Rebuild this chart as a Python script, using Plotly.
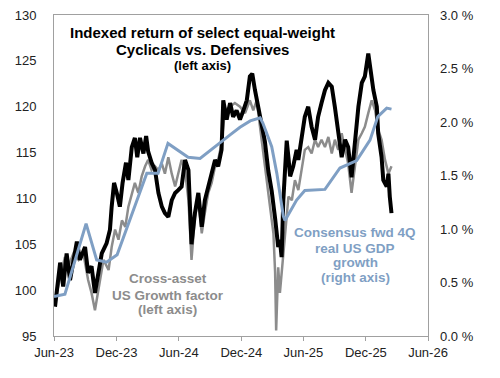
import plotly.graph_objects as go

# ---- Data ----
cyc_dates = ["2023-06-04","2023-06-09","2023-06-19","2023-06-28","2023-07-08","2023-07-18","2023-07-28","2023-08-07",
             "2023-08-16","2023-08-31","2023-09-09","2023-09-19","2023-09-29","2023-10-09","2023-10-19","2023-11-02",
             "2023-11-12","2023-11-17","2023-11-24","2023-12-02","2023-12-11","2023-12-19","2023-12-29","2024-01-05",
             "2024-01-15","2024-01-24","2024-01-31","2024-02-08","2024-02-18","2024-02-26","2024-03-03","2024-03-13",
             "2024-03-23","2024-04-02","2024-04-12","2024-04-21","2024-05-01","2024-05-11","2024-05-21","2024-05-30",
             "2024-06-09","2024-06-19","2024-06-29","2024-07-08","2024-07-18","2024-07-28","2024-08-07","2024-08-16",
             "2024-08-26","2024-09-05","2024-09-15","2024-09-24","2024-10-04","2024-10-09","2024-10-19","2024-10-29",
             "2024-11-07","2024-11-17","2024-11-27","2024-12-07","2024-12-17","2024-12-26","2025-01-02","2025-01-10",
             "2025-01-20","2025-01-30","2025-02-08","2025-02-18","2025-02-28","2025-03-10","2025-03-15","2025-03-19",
             "2025-03-24","2025-03-29","2025-04-03","2025-04-13","2025-04-18","2025-04-23","2025-05-02","2025-05-12",
             "2025-05-17","2025-05-27","2025-06-05","2025-06-15","2025-06-25","2025-07-05","2025-07-14","2025-07-24",
             "2025-08-03","2025-08-13","2025-08-23","2025-09-01","2025-09-11","2025-09-21","2025-10-01","2025-10-10",
             "2025-10-20","2025-10-30","2025-11-09","2025-11-19","2025-11-28","2025-12-08","2025-12-13","2025-12-23",
             "2026-01-02","2026-01-06","2026-01-16","2026-01-21","2026-01-31","2026-02-05","2026-02-09","2026-02-14"]
cyc_values = [98.2,100.0,103.0,100.4,104.0,101.1,103.0,105.3,
              103.3,104.7,101.9,102.6,99.7,101.9,104.0,105.1,
              106.6,109.1,111.7,110.6,109.1,111.7,113.9,112.0,
              115.6,116.6,114.5,116.6,114.9,116.8,115.1,113.9,
              113.1,110.6,109.1,108.4,108.0,109.8,110.6,110.9,
              111.3,114.2,113.1,105.0,108.4,110.6,106.9,109.8,
              111.3,112.4,114.2,113.5,115.3,120.7,118.6,120.4,
              118.9,119.6,118.6,119.6,120.7,123.3,123.6,121.8,
              120.0,117.8,116.2,113.0,110.8,107.8,106.5,104.7,
              105.5,103.6,109.8,116.3,114.5,112.4,113.5,115.3,
              114.2,117.1,118.9,120.0,117.8,116.4,118.9,120.4,
              121.8,122.6,122.2,120.0,117.1,114.5,116.4,115.6,
              112.3,116.4,120.0,122.6,123.3,125.8,124.4,121.8,
              120.0,117.1,114.5,112.0,111.3,112.7,110.2,108.4]

growth_dates = ["2023-06-04","2023-06-19","2023-07-03","2023-07-13","2023-07-28","2023-08-12","2023-08-26","2023-09-09",
                "2023-09-19","2023-09-29","2023-10-09","2023-10-24","2023-11-08","2023-11-17","2023-11-27","2023-12-07",
                "2023-12-17","2023-12-27","2024-01-05","2024-01-15","2024-01-24","2024-02-03","2024-02-13","2024-02-23",
                "2024-03-03","2024-03-13","2024-03-23","2024-04-02","2024-04-12","2024-04-21","2024-05-01","2024-05-11",
                "2024-05-21","2024-05-30","2024-06-09","2024-06-19","2024-06-29","2024-07-08","2024-07-18","2024-07-28",
                "2024-08-07","2024-08-16","2024-08-26","2024-09-05","2024-09-15","2024-09-24","2024-10-04","2024-10-14",
                "2024-10-29","2024-11-12","2024-11-27","2024-12-12","2024-12-26","2025-01-05","2025-01-15","2025-01-30",
                "2025-02-04","2025-02-13","2025-02-23","2025-03-05","2025-03-10","2025-03-13","2025-03-19","2025-03-24",
                "2025-03-29","2025-04-08","2025-04-18","2025-04-28","2025-05-07","2025-05-17","2025-05-27","2025-06-05",
                "2025-06-15","2025-06-25","2025-07-05","2025-07-14","2025-07-24","2025-08-03","2025-08-13","2025-08-23",
                "2025-09-01","2025-09-11","2025-09-21","2025-10-01","2025-10-10","2025-10-20","2025-10-30","2025-11-09",
                "2025-11-19","2025-11-28","2025-12-08","2025-12-18","2025-12-28","2026-01-06","2026-01-16","2026-01-26",
                "2026-02-05","2026-02-14"]
growth_values = [98.9,101.5,103.6,102.6,104.0,103.3,104.0,101.1,
                 99.7,97.8,100.0,103.3,102.2,104.7,106.6,105.5,
                 107.6,106.9,109.1,110.6,111.7,110.6,112.4,113.5,
                 114.2,113.1,113.5,113.1,113.8,112.7,114.5,112.7,
                 111.3,112.7,114.2,113.1,109.8,103.3,108.0,109.8,
                 106.2,108.4,110.6,111.7,113.5,114.2,116.0,119.6,
                 120.0,120.4,120.0,119.3,120.7,119.6,120.7,116.0,
                 114.5,112.2,109.1,106.2,101.9,95.6,102.5,99.7,
                 102.0,106.5,110.2,109.8,112.0,110.9,113.5,115.3,
                 115.6,114.9,116.4,115.6,116.4,115.6,116.7,114.9,
                 116.4,115.3,117.1,115.3,113.8,110.6,113.5,116.4,
                 117.1,117.8,119.3,120.7,119.6,117.5,116.4,114.2,
                 112.7,113.5]

gdp_dates = ["2023-06-01","2023-07-03","2023-09-03","2023-10-04","2023-11-02","2023-12-03","2024-02-28","2024-04-01",
             "2024-04-30","2024-06-28","2024-08-02","2024-09-29","2024-10-29","2024-11-27","2024-12-27","2025-01-25",
             "2025-02-02","2025-02-28","2025-03-15","2025-04-03","2025-04-08","2025-05-12","2025-06-05","2025-08-03",
             "2025-09-16","2025-11-04","2025-12-13","2026-01-05","2026-01-31","2026-02-14"]
gdp_values = [0.37,0.39,1.05,0.71,0.69,0.76,1.52,1.52,
              1.80,1.67,1.66,1.81,1.88,1.95,2.01,2.04,
              1.99,1.77,1.52,1.12,1.08,1.27,1.36,1.37,
              1.57,1.64,1.83,2.05,2.13,2.12]

BLACK = "#000000"
GRAY = "#8c8c8c"
BLUE = "#7f9fc4"
FONT = "Liberation Sans, Arial, sans-serif"

fig = go.Figure()
fig.add_trace(go.Scatter(x=growth_dates, y=growth_values, mode="lines",
                         line=dict(color=GRAY, width=2.5), name="Cross-asset US Growth factor"))
fig.add_trace(go.Scatter(x=cyc_dates, y=cyc_values, mode="lines",
                         line=dict(color=BLACK, width=4), name="Cyclicals vs. Defensives"))
fig.add_trace(go.Scatter(x=gdp_dates, y=gdp_values, mode="lines", yaxis="y2",
                         line=dict(color=BLUE, width=3), name="Consensus fwd 4Q real US GDP growth"))

def ann(text, x, y, size, color):
    fig.add_annotation(text=text, x=x, y=y, xref="paper", yref="paper",
                       xanchor="center", yanchor="middle", showarrow=False,
                       font=dict(size=size, color=color, family=FONT))

ann("<b>Indexed return of select equal-weight</b>", 0.396, 0.944, 15, BLACK)
ann("<b>Cyclicals vs. Defensives</b>", 0.396, 0.8925, 15, BLACK)
ann("<b>(left axis)</b>", 0.396, 0.844, 13, BLACK)

ann("<b>Cross-asset</b>", 0.3035, 0.1776, 13.5, GRAY)
ann("<b>US Growth factor</b>", 0.3035, 0.1255, 13.5, GRAY)
ann("<b>(left axis)</b>", 0.3035, 0.081, 13.5, GRAY)

ann("<b>Consensus fwd 4Q</b>", 0.805, 0.3218, 13.5, BLUE)
ann("<b>real US GDP</b>", 0.805, 0.274, 13.5, BLUE)
ann("<b>growth</b>", 0.805, 0.228, 13.5, BLUE)
ann("<b>(right axis)</b>", 0.805, 0.181, 13.5, BLUE)

fig.update_layout(
    width=500, height=378,
    margin=dict(l=54, r=72, t=15, b=42),
    paper_bgcolor="white", plot_bgcolor="white",
    showlegend=False,
    font=dict(family=FONT, size=13, color="#222222"),
    xaxis=dict(range=["2023-06-01", "2026-06-01"], tick0="2023-06-01", dtick="M6",
               tickformat="%b-%y", showgrid=False, zeroline=False, automargin=False,
               showline=True, linecolor="#a0a0a0", linewidth=1, mirror=True,
               ticks="outside", ticklen=4, tickcolor="#a0a0a0",
               tickfont=dict(size=13, color="#222222")),
    yaxis=dict(range=[95, 130], dtick=5, showgrid=False, zeroline=False, automargin=False,
               showline=True, linecolor="#a0a0a0", linewidth=1, mirror=True,
               ticks="", ticklabelstandoff=14,
               tickfont=dict(size=13, color="#222222")),
    yaxis2=dict(range=[0, 3.0], dtick=0.5, overlaying="y", side="right", automargin=False,
                tickformat=".1f", ticksuffix=" %", showgrid=False, zeroline=False,
                showline=False, ticks="", ticklabelstandoff=11,
                tickfont=dict(size=13, color="#222222")),
)

fig.write_html("out.html", config={"displayModeBar": False},
               post_script="document.body.style.margin='0';document.body.style.padding='0';")
